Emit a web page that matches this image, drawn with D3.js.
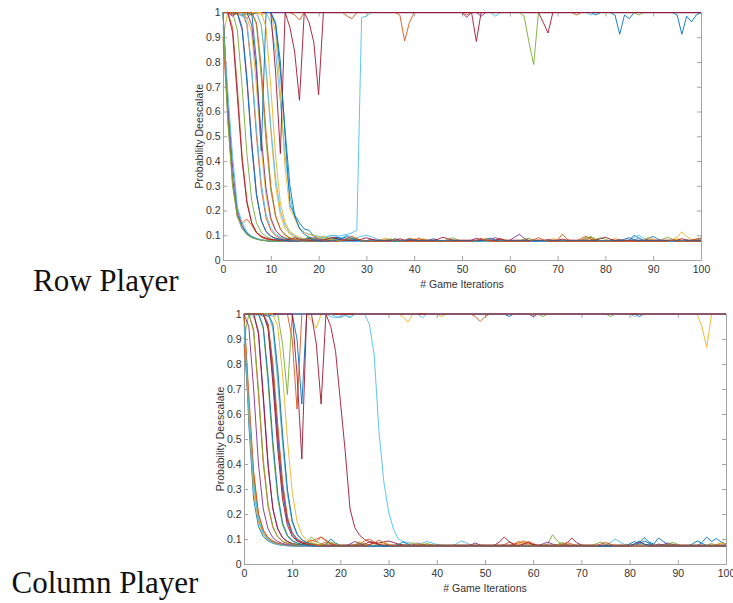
<!DOCTYPE html>
<html>
<head>
<meta charset="utf-8">
<script src="https://cdn.jsdelivr.net/npm/d3@7"></script>
<style>
body { margin: 0; background: #fff; }
</style>
</head>
<body>
<div id="wrapper"></div>
<script>
// probability values are stored in thousandths, one value per game iteration (0..100)

var xTicks = [0, 10, 20, 30, 40, 50, 60, 70, 80, 90, 100];
var yTicks = [0, 0.1, 0.2, 0.3, 0.4, 0.5, 0.6, 0.7, 0.8, 0.9, 1];
var yTickLabels = ["0", "0.1", "0.2", "0.3", "0.4", "0.5", "0.6", "0.7", "0.8", "0.9", "1"];
var panelNames = ["Row Player", "Column Player"];
var axisName = "# Game Iterations";
var valueName = "Probability Deescalate";

// ---- Row Player runs ----
var rowP00 = [1000,1000,1000,1000,985,1000,1000,1000,1000,1000,
1000,1000,1000,1000,1000,1000,1000,1000,1000,1000,
1000,1000,1000,1000,1000,1000,1000,1000,1000,1000,
1000,1000,1000,1000,1000,1000,1000,1000,1000,1000,
1000,1000,1000,1000,1000,1000,1000,1000,1000,1000,
1000,1000,1000,1000,1000,1000,1000,1000,1000,1000,
1000,1000,1000,1000,1000,1000,1000,1000,1000,1000,
1000,1000,1000,1000,1000,1000,1000,1000,990,1000,
1000,1000,990,912,990,975,1000,1000,1000,1000,
1000,1000,1000,1000,1000,990,912,985,962,990,1000];
var rowP01 = [1000,1000,990,1000,1000,975,1000,1000,1000,1000,
1000,1000,1000,1000,1000,990,970,1000,1000,1000,
1000,1000,1000,1000,1000,1000,985,975,1000,1000,
1000,1000,1000,1000,1000,1000,1000,990,885,960,
1000,1000,1000,1000,1000,1000,1000,1000,1000,1000,
1000,990,1000,1000,1000,1000,1000,1000,1000,1000,
1000,1000,1000,1000,1000,1000,1000,1000,1000,1000,
1000,1000,1000,1000,990,1000,1000,1000,1000,1000,
1000,1000,1000,1000,1000,1000,1000,1000,1000,1000,
1000,1000,1000,1000,1000,1000,1000,1000,1000,1000,1000];
var rowP02 = [900,1000,1000,990,1000,980,920,700,450,260,
160,118,100,90,85,82,80,84,92,86,
80,78,76,75,75,78,84,78,75,75,
75,75,75,82,88,80,75,75,75,75,
75,80,86,80,75,75,75,75,75,75,
75,75,75,75,80,75,75,75,75,82,
76,75,75,75,75,75,75,75,80,86,
80,75,75,75,75,75,75,75,75,75,
75,75,78,75,75,75,75,75,75,84,
80,75,75,75,82,92,114,95,82,80,86];
var rowP03 = [1000,640,380,200,140,108,94,86,81,78,
76,75,75,75,75,75,76,75,75,75,
75,75,80,75,75,75,75,75,75,75,
75,75,75,75,75,75,75,75,75,75,
75,75,75,75,75,75,80,75,75,75,
75,75,75,75,75,75,75,75,75,75,
80,92,104,88,78,75,75,75,75,75,
75,75,75,75,75,75,75,75,75,75,
75,75,75,75,75,80,75,75,75,75,
75,75,75,75,75,75,75,75,75,75,75];
var rowP04 = [1000,1000,1000,1000,1000,1000,990,1000,1000,1000,
1000,1000,1000,1000,1000,1000,1000,1000,1000,1000,
1000,1000,1000,1000,1000,1000,1000,1000,1000,1000,
1000,1000,1000,1000,1000,1000,1000,1000,1000,1000,
1000,1000,1000,1000,1000,1000,1000,1000,1000,1000,
1000,1000,1000,1000,1000,1000,1000,1000,1000,1000,
1000,1000,1000,985,880,790,1000,1000,1000,1000,
1000,1000,1000,1000,1000,1000,1000,1000,1000,1000,
1000,1000,1000,1000,1000,1000,1000,990,1000,1000,
1000,1000,1000,1000,1000,1000,1000,1000,1000,1000,1000];
var rowP05 = [1000,1000,1000,1000,990,1000,1000,1000,1000,1000,
960,840,640,420,260,170,130,112,104,100,
96,92,96,100,97,100,104,110,120,980,
985,1000,1000,1000,1000,1000,1000,1000,1000,1000,
1000,1000,1000,1000,1000,1000,1000,1000,1000,1000,
1000,1000,1000,1000,1000,1000,1000,985,1000,1000,
1000,1000,1000,1000,1000,1000,1000,1000,1000,1000,
1000,1000,1000,1000,1000,1000,1000,990,1000,1000,
1000,1000,1000,1000,1000,1000,1000,1000,1000,1000,
1000,1000,1000,1000,1000,1000,1000,1000,1000,1000,1000];
var rowP06 = [1000,1000,1000,1000,1000,1000,1000,1000,1000,1000,
1000,1000,1000,1000,940,840,645,1000,960,880,
668,1000,1000,1000,1000,1000,1000,1000,1000,1000,
1000,1000,1000,1000,1000,1000,1000,1000,1000,1000,
1000,1000,1000,1000,1000,1000,1000,1000,1000,1000,
1000,1000,1000,1000,1000,1000,1000,1000,1000,1000,
1000,1000,1000,1000,1000,1000,1000,1000,1000,1000,
1000,1000,1000,1000,1000,1000,1000,1000,1000,1000,
1000,1000,1000,1000,1000,1000,1000,1000,1000,1000,
1000,1000,1000,1000,1000,1000,1000,1000,1000,1000,1000];
var rowP07 = [1000,600,330,185,132,106,92,85,80,78,
76,75,75,78,75,75,75,80,86,80,
75,75,75,75,75,80,88,80,75,75,
75,75,75,75,75,75,75,75,75,75,
75,75,75,75,75,75,75,75,82,75,
75,75,75,75,75,75,75,75,75,75,
75,75,75,75,75,75,75,75,75,75,
75,75,75,75,75,75,75,75,75,75,
75,75,75,75,75,80,100,88,78,75,
75,75,75,75,75,75,75,75,75,75,75];
var rowP08 = [900,580,310,175,150,165,140,110,92,84,
80,78,76,75,75,75,75,75,75,75,
75,78,84,90,84,78,75,75,75,75,
75,75,75,75,75,75,75,75,75,75,
75,75,75,75,75,75,75,75,75,75,
75,75,75,75,75,75,75,75,75,75,
75,75,75,75,75,75,75,75,75,75,
80,105,84,75,75,75,82,92,80,75,
75,75,75,75,75,75,75,75,75,75,
75,75,75,80,75,75,75,75,75,75,75];
var rowP09 = [1000,1000,1000,995,1000,1000,1000,1000,950,760,
520,300,180,128,104,92,86,82,80,78,
76,75,75,80,88,80,75,75,75,75,
75,75,75,75,75,75,75,75,75,80,
86,80,75,75,75,75,75,75,75,75,
75,75,75,75,75,75,75,75,75,75,
75,75,75,75,75,75,75,75,75,75,
75,75,75,80,75,75,75,75,75,75,
75,75,88,80,75,75,75,75,75,75,
75,75,75,75,75,75,75,75,75,75,75];
var rowP10 = [1000,1000,1000,1000,940,740,480,270,160,115,
96,88,84,82,80,79,78,78,78,78,
78,78,78,82,90,84,78,78,78,78,
78,84,80,78,78,78,78,78,78,78,
78,78,78,78,78,78,78,78,78,78,
78,78,78,78,78,78,84,90,84,78,
78,78,78,78,78,78,78,78,82,78,
78,78,78,78,78,78,78,78,78,78,
78,78,78,82,78,78,78,78,78,78,
78,78,78,78,78,78,78,78,78,78,78];
var rowP11 = [1000,1000,1000,930,700,430,240,150,112,95,
86,82,80,84,90,84,78,76,75,75,
75,75,75,75,75,75,75,80,86,80,
75,75,75,75,75,75,75,75,75,75,
75,75,75,75,75,75,75,75,75,75,
75,75,75,75,75,75,75,75,75,75,
75,75,75,75,75,75,75,75,75,75,
75,75,75,75,75,80,92,85,76,75,
75,75,75,75,75,75,75,75,75,75,
75,75,75,75,75,75,75,75,75,82,90];
var rowP12 = [950,680,420,215,150,114,96,88,82,79,
77,76,75,75,75,75,75,75,75,75,
80,88,95,100,92,85,80,84,90,96,
100,94,86,80,76,75,75,75,75,75,
75,75,75,75,75,75,75,75,75,75,
75,75,75,75,75,75,75,75,75,75,
75,75,75,75,75,75,75,75,75,75,
75,75,75,75,75,75,75,75,75,75,
75,75,75,75,75,80,92,100,88,80,
75,75,75,75,75,75,75,75,75,75,75];
var rowP13 = [1000,1000,1000,1000,1000,1000,1000,1000,1000,1000,
1000,1000,1000,1000,1000,1000,1000,1000,1000,1000,
1000,1000,1000,1000,1000,1000,1000,1000,1000,1000,
1000,1000,1000,1000,1000,1000,1000,1000,1000,1000,
1000,1000,1000,1000,1000,1000,1000,1000,1000,1000,
1000,1000,1000,883,1000,1000,1000,1000,1000,1000,
1000,1000,1000,1000,1000,1000,1000,960,917,1000,
1000,1000,1000,1000,1000,1000,1000,1000,1000,1000,
1000,1000,1000,1000,1000,1000,1000,1000,1000,1000,
1000,1000,1000,1000,1000,1000,1000,1000,1000,1000,1000];
var rowP14 = [1000,1000,1000,1000,1000,1000,990,1000,1000,1000,
1000,960,800,500,222,182,150,125,120,96,
86,82,80,86,92,86,80,78,76,75,
75,75,75,75,75,80,86,80,75,75,
75,75,75,75,75,75,75,75,75,75,
75,75,75,75,75,75,75,75,75,75,
75,75,75,75,75,75,75,75,75,75,
75,75,75,75,75,75,75,75,75,75,
75,75,75,75,75,75,75,75,75,88,
95,84,76,75,75,75,75,75,75,75,75];
var rowP15 = [1000,1000,995,1000,1000,950,760,500,290,170,
120,98,88,82,80,78,76,75,75,75,
75,80,86,80,75,75,75,75,75,75,
75,75,75,75,75,75,75,75,80,88,
82,75,75,75,75,75,75,75,75,75,
75,75,75,75,75,75,75,80,84,78,
75,75,75,75,75,75,75,75,75,75,
75,75,75,75,78,88,96,84,76,75,
75,75,75,75,75,75,75,75,75,75,
75,75,75,75,75,75,75,75,75,75,75];
var rowP16 = [1000,1000,1000,1000,1000,1000,1000,1000,990,1000,
1000,920,680,370,205,170,125,112,102,100,
92,86,82,80,78,76,75,75,75,75,
75,75,75,75,75,75,75,75,75,75,
75,75,75,75,75,75,75,75,75,75,
75,75,75,75,80,88,80,75,75,75,
75,75,75,75,75,75,75,75,75,75,
75,75,75,75,75,75,75,75,75,75,
75,75,75,75,75,75,75,75,80,92,
84,76,75,75,75,75,75,75,75,75,75];
var rowP17 = [1000,1000,985,1000,1000,1000,1000,1000,1000,1000,
1000,1000,1000,1000,1000,1000,1000,1000,1000,1000,
1000,1000,1000,1000,1000,1000,1000,1000,1000,1000,
1000,1000,1000,1000,1000,1000,1000,1000,1000,1000,
1000,1000,1000,1000,1000,1000,1000,1000,1000,1000,
1000,980,1000,1000,985,1000,1000,1000,1000,1000,
1000,1000,1000,1000,1000,1000,1000,1000,1000,1000,
1000,1000,1000,1000,1000,1000,1000,1000,1000,1000,
1000,1000,1000,1000,1000,1000,1000,1000,1000,1000,
1000,1000,1000,1000,1000,1000,1000,1000,1000,1000,1000];
var rowP18 = [1000,1000,1000,1000,1000,990,1000,950,740,480,
280,175,125,102,90,84,80,86,92,85,
78,76,75,75,75,75,75,75,75,75,
75,75,75,75,75,75,75,75,75,75,
75,75,75,75,75,75,75,75,80,75,
75,75,75,75,75,75,75,75,75,75,
75,75,75,75,75,75,75,75,75,75,
75,75,75,75,75,80,88,95,84,76,
75,75,75,75,75,75,75,75,75,75,
75,75,75,75,75,75,75,75,75,75,75];
var rowP19 = [1000,1000,1000,1000,1000,1000,1000,1000,950,780,
540,330,200,140,110,96,88,84,82,80,
84,92,86,80,84,92,100,92,84,78,
76,75,75,75,75,75,75,75,75,75,
75,75,75,75,75,75,75,75,75,75,
75,75,75,75,75,75,75,75,75,75,
75,75,75,75,75,75,75,75,75,75,
75,75,75,75,75,75,75,75,75,75,
75,75,75,75,75,75,75,75,75,75,
75,75,75,75,75,75,75,75,75,80,86];
var rowP20 = [1000,1000,1000,1000,1000,1000,1000,1000,1000,1000,
1000,760,430,1000,1000,1000,1000,1000,1000,1000,
1000,1000,1000,1000,1000,1000,1000,1000,1000,1000,
1000,1000,1000,1000,1000,1000,1000,1000,1000,1000,
1000,1000,1000,1000,1000,1000,1000,1000,1000,1000,
1000,1000,1000,1000,1000,1000,1000,1000,1000,1000,
1000,1000,1000,1000,1000,1000,1000,1000,1000,1000,
1000,1000,1000,1000,1000,1000,1000,1000,1000,1000,
1000,1000,1000,1000,1000,1000,1000,1000,1000,1000,
1000,1000,1000,1000,1000,1000,1000,1000,1000,1000,1000];
var rowP21 = [1000,1000,1000,1000,1000,1000,1000,800,440,1000,
1000,950,760,520,300,180,128,104,92,86,
82,80,78,76,75,75,75,75,75,75,
75,75,75,75,75,75,75,75,75,75,
75,75,75,80,86,80,75,75,75,75,
75,75,75,75,75,75,75,75,75,75,
75,75,75,75,75,75,75,75,75,75,
75,75,75,75,75,75,75,75,75,75,
75,75,75,75,75,75,75,75,75,75,
75,75,75,75,75,75,75,82,75,75,75];
var rowP22 = [1000,1000,940,700,420,240,150,110,95,87,
82,80,78,76,75,75,75,75,75,75,
75,75,75,75,75,75,80,88,82,75,
75,75,75,75,75,75,75,75,75,75,
80,88,80,75,75,75,75,75,75,75,
75,75,75,75,75,75,75,75,75,75,
75,75,75,75,75,75,80,75,75,75,
75,75,75,75,75,75,75,75,75,75,
75,75,75,75,75,75,75,75,75,75,
75,75,75,75,75,75,75,75,80,85,88];
var rowP23 = [1000,1000,1000,1000,1000,1000,1000,1000,1000,940,
700,420,230,150,115,100,92,86,82,84,
90,96,88,82,78,76,75,75,75,75,
75,75,75,75,75,75,75,75,75,75,
75,75,75,75,75,75,75,75,75,75,
75,75,75,75,75,75,75,75,75,75,
75,75,75,75,75,75,75,75,75,75,
75,75,75,75,75,75,75,75,75,75,
75,75,75,75,75,75,75,75,75,75,
75,75,75,75,80,86,80,75,75,75,75];
var rowP24 = [1000,1000,1000,1000,1000,1000,950,760,500,290,
170,120,98,88,82,79,77,76,75,75,
75,75,75,75,75,75,75,75,75,75,
75,75,75,75,75,75,75,75,75,75,
75,75,75,75,75,75,75,75,75,75,
75,75,80,88,82,75,75,75,75,75,
75,75,75,75,75,75,75,75,75,75,
75,75,75,75,75,75,75,75,75,75,
75,80,75,75,75,75,75,75,75,75,
75,75,75,75,75,75,75,75,75,75,75];
var rowP25 = [1000,560,300,175,125,102,90,84,80,78,
77,76,76,80,86,80,76,76,76,76,
76,82,90,84,78,76,80,88,82,76,
76,76,76,76,80,86,80,76,76,76,
76,76,82,76,76,76,76,84,90,82,
76,76,76,76,76,80,76,76,76,76,
76,76,76,84,88,80,76,76,76,76,
76,76,80,76,76,76,76,76,84,90,
84,76,76,76,76,76,76,76,76,76,
76,76,84,92,84,76,76,76,76,76,76];
var rowP26 = [1000,1000,1000,1000,1000,960,780,530,310,185,
128,104,92,86,82,80,78,76,80,88,
80,76,75,75,75,75,75,75,75,75,
75,75,75,75,75,75,75,75,75,75,
75,75,75,75,75,75,75,75,75,75,
75,75,75,75,75,75,75,75,75,75,
75,75,75,75,75,75,75,75,75,75,
75,75,75,75,75,75,75,75,75,75,
75,75,75,75,75,75,80,90,80,75,
75,75,75,75,75,75,75,75,75,75,75];
var rowP27 = [1000,1000,920,660,400,230,150,112,96,88,
83,81,80,80,84,90,84,80,80,80,
80,80,86,92,86,80,80,80,80,84,
90,84,80,80,80,80,80,86,80,80,
80,80,80,80,80,84,92,86,80,80,
80,80,80,80,80,80,80,80,86,80,
80,80,80,80,80,80,80,80,80,80,
80,84,80,80,80,80,80,80,80,86,
92,84,80,80,80,80,80,80,80,80,
80,80,80,80,80,80,86,80,80,80,80];
var rowP28 = [1000,1000,1000,995,930,720,460,260,160,115,
96,87,82,79,77,77,77,82,88,82,
77,77,77,77,82,88,95,86,80,77,
77,77,77,77,77,77,77,77,77,84,
80,77,77,77,77,77,77,77,77,77,
77,77,77,77,77,84,88,80,77,77,
77,77,77,77,77,77,77,77,77,77,
77,77,77,77,77,77,77,77,77,77,
77,77,77,77,84,90,82,77,77,77,
77,77,77,77,77,77,77,77,77,77,77];
var rowP29 = [1000,1000,1000,1000,1000,1000,1000,960,780,520,
300,180,125,100,88,82,80,80,84,90,
84,78,76,75,75,80,88,96,86,78,
75,75,75,75,75,75,82,75,75,75,
75,75,75,75,75,75,75,75,75,75,
75,75,75,80,88,80,75,75,75,75,
75,75,75,75,75,82,90,82,75,75,
75,75,75,75,75,75,75,75,75,75,
75,75,75,75,75,75,75,75,75,75,
75,75,75,75,80,75,75,75,75,75,75];

// ---- Column Player runs ----
var colP00 = [1000,1000,1000,1000,990,1000,1000,1000,1000,1000,
1000,900,640,1000,1000,1000,1000,1000,1000,1000,
1000,1000,1000,1000,1000,1000,1000,1000,1000,1000,
1000,1000,1000,1000,1000,1000,1000,1000,1000,1000,
1000,1000,1000,1000,1000,1000,1000,1000,1000,1000,
1000,1000,1000,1000,1000,990,1000,1000,1000,1000,
1000,1000,1000,1000,1000,1000,1000,1000,1000,1000,
1000,1000,1000,1000,1000,1000,1000,1000,1000,1000,
1000,1000,990,1000,1000,1000,1000,1000,1000,1000,
1000,1000,1000,1000,1000,1000,1000,1000,1000,1000,1000];
var colP01 = [880,620,360,200,135,106,92,84,78,75,
74,73,78,86,92,100,108,96,84,76,
73,72,72,72,72,72,72,72,72,72,
72,72,72,72,72,72,72,72,72,72,
72,72,72,72,72,72,72,72,72,72,
72,72,72,72,78,88,80,84,92,84,
76,72,72,72,72,72,72,72,72,72,
72,72,72,72,72,72,72,72,72,72,
72,72,72,72,72,72,72,72,72,72,
72,72,72,72,72,72,72,72,72,72,72];
var colP02 = [1000,1000,1000,1000,1000,1000,1000,1000,1000,1000,
1000,1000,1000,1000,975,944,1000,1000,1000,1000,
1000,1000,1000,1000,1000,1000,1000,1000,1000,1000,
1000,1000,1000,990,968,1000,1000,1000,1000,1000,
1000,990,1000,1000,1000,1000,1000,1000,1000,1000,
1000,1000,1000,1000,1000,1000,1000,1000,1000,1000,
1000,1000,1000,1000,1000,1000,1000,1000,1000,1000,
1000,1000,1000,1000,1000,1000,1000,1000,1000,1000,
1000,1000,1000,1000,1000,1000,1000,1000,1000,1000,
1000,1000,1000,1000,1000,950,866,1000,1000,1000,1000];
var colP03 = [1000,1000,1000,930,680,400,220,140,105,90,
82,78,75,74,73,72,72,72,72,72,
72,72,72,72,72,72,72,72,72,72,
72,72,72,72,72,76,84,78,72,72,
72,72,72,72,72,72,72,72,72,72,
72,72,72,72,72,72,72,72,72,72,
72,72,72,72,72,72,72,72,72,72,
72,72,72,72,72,72,72,72,72,72,
72,72,72,72,72,72,72,72,72,72,
72,72,72,72,72,72,72,72,72,72,72];
var colP04 = [900,1000,1000,1000,1000,1000,1000,1000,880,678,
1000,1000,1000,1000,1000,1000,1000,1000,1000,1000,
1000,1000,1000,1000,1000,1000,1000,1000,1000,1000,
1000,1000,1000,1000,1000,1000,1000,1000,1000,1000,
1000,1000,1000,1000,1000,1000,1000,1000,1000,1000,
1000,1000,1000,1000,1000,1000,1000,1000,1000,1000,
1000,1000,990,1000,1000,1000,1000,1000,1000,1000,
1000,1000,1000,1000,1000,1000,990,1000,1000,1000,
1000,1000,1000,1000,1000,1000,1000,1000,1000,1000,
1000,1000,1000,1000,1000,1000,1000,1000,1000,1000,1000];
var colP05 = [1000,1000,1000,1000,1000,1000,1000,1000,1000,1000,
1000,1000,1000,1000,1000,1000,1000,1000,990,985,
990,995,988,1000,1000,1000,960,840,530,330,
210,140,100,90,86,82,80,84,90,84,
78,75,73,72,72,72,72,72,72,72,
72,72,72,72,72,72,72,72,72,72,
72,72,72,72,72,72,72,72,72,72,
72,72,72,72,72,76,86,100,88,78,
72,72,72,72,72,72,72,72,72,72,
72,72,72,72,72,72,72,72,72,72,72];
var colP06 = [1000,1000,1000,1000,1000,1000,1000,1000,1000,1000,
1000,1000,1000,1000,1000,880,640,1000,950,850,
650,450,220,145,115,98,90,86,84,88,
92,86,80,76,74,72,72,72,72,72,
72,72,72,72,72,72,72,72,72,72,
72,72,76,88,108,90,78,72,72,72,
72,72,72,72,72,72,72,84,104,86,
76,72,72,72,72,72,72,72,72,72,
72,72,72,72,72,72,72,72,72,72,
72,72,72,72,72,72,72,72,72,72,72];
var colP07 = [1000,560,260,150,110,92,83,78,75,73,
72,72,72,72,72,72,72,80,100,84,
74,72,72,72,72,72,72,72,72,72,
72,72,72,72,72,72,72,72,72,72,
72,72,72,72,72,72,72,72,72,72,
72,72,72,72,72,72,72,72,72,72,
72,72,72,72,72,72,72,72,72,72,
72,72,72,72,72,72,72,72,72,72,
72,72,84,106,88,80,104,90,78,72,
72,72,72,72,72,72,72,72,72,72,72];
var colP08 = [1000,1000,1000,1000,1000,1000,1000,1000,1000,1000,
900,620,1000,1000,1000,1000,1000,1000,1000,1000,
1000,1000,1000,1000,1000,1000,1000,1000,1000,1000,
1000,1000,1000,1000,1000,1000,1000,1000,1000,1000,
1000,1000,1000,1000,1000,1000,1000,1000,990,970,
990,1000,1000,1000,1000,1000,1000,1000,1000,1000,
1000,1000,1000,1000,1000,1000,1000,1000,1000,1000,
1000,1000,1000,1000,1000,1000,1000,1000,1000,1000,
1000,1000,1000,1000,1000,1000,1000,1000,1000,1000,
1000,1000,1000,1000,1000,1000,1000,1000,1000,1000,1000];
var colP09 = [1000,1000,1000,1000,1000,1000,950,740,500,290,
170,120,98,88,82,78,75,74,73,72,
72,72,72,72,72,72,72,72,72,72,
72,72,72,72,72,72,76,82,76,72,
72,72,72,72,72,72,72,72,72,72,
72,72,72,72,72,72,72,72,72,72,
72,72,72,72,72,72,72,72,72,72,
72,72,72,72,72,72,72,72,72,72,
72,72,72,72,72,72,72,72,72,72,
72,72,72,72,72,72,72,72,78,84,80];
var colP10 = [1000,1000,1000,1000,1000,990,1000,1000,1000,1000,
1000,1000,1000,1000,1000,1000,1000,1000,1000,1000,
1000,1000,1000,1000,1000,1000,1000,1000,1000,1000,
1000,1000,1000,1000,1000,1000,1000,1000,1000,1000,
1000,1000,1000,1000,1000,1000,1000,1000,1000,1000,
1000,1000,1000,1000,1000,1000,1000,1000,1000,1000,
990,1000,1000,1000,1000,1000,1000,1000,1000,1000,
1000,1000,1000,1000,1000,1000,1000,1000,1000,1000,
1000,1000,1000,1000,1000,1000,1000,1000,1000,1000,
1000,1000,1000,1000,1000,1000,1000,1000,1000,1000,1000];
var colP11 = [1000,1000,1000,1000,940,720,460,260,155,110,
92,84,80,86,108,90,80,76,74,72,
72,72,72,72,72,72,72,72,72,72,
72,72,72,72,72,72,72,72,72,72,
72,72,72,72,72,72,72,72,72,72,
72,72,72,72,72,72,72,72,72,72,
72,72,72,80,117,92,78,72,72,72,
72,72,72,72,72,72,72,72,72,72,
72,72,72,72,72,72,72,72,72,72,
72,72,72,72,72,72,72,72,72,72,72];
var colP12 = [1000,1000,985,1000,1000,1000,990,1000,1000,1000,
1000,1000,1000,1000,1000,1000,1000,1000,1000,990,
985,995,985,1000,1000,1000,1000,1000,1000,1000,
1000,1000,1000,1000,1000,1000,1000,985,1000,1000,
1000,1000,1000,1000,1000,1000,1000,1000,1000,1000,
1000,1000,1000,1000,1000,1000,1000,1000,1000,1000,
1000,1000,1000,1000,1000,1000,1000,1000,1000,1000,
1000,1000,1000,1000,1000,1000,1000,1000,1000,1000,
1000,990,1000,1000,1000,1000,1000,1000,1000,1000,
1000,1000,1000,1000,1000,1000,1000,1000,1000,1000,1000];
var colP13 = [1000,1000,1000,1000,1000,1000,1000,1000,1000,1000,
1000,760,420,1000,1000,1000,1000,1000,1000,1000,
1000,1000,1000,1000,1000,1000,1000,1000,1000,1000,
1000,1000,1000,1000,1000,1000,1000,1000,1000,1000,
1000,1000,1000,1000,1000,1000,1000,1000,1000,1000,
1000,1000,1000,1000,1000,1000,1000,1000,1000,1000,
1000,1000,1000,1000,1000,1000,1000,1000,1000,1000,
1000,1000,1000,1000,1000,1000,1000,1000,1000,1000,
1000,1000,1000,1000,1000,1000,1000,1000,1000,1000,
1000,1000,1000,1000,1000,1000,1000,1000,1000,1000,1000];
var colP14 = [1000,1000,1000,1000,1000,950,750,500,290,170,
118,95,86,80,76,74,73,72,72,72,
72,72,72,72,72,72,72,72,72,72,
72,72,72,72,72,72,72,72,72,72,
72,72,72,72,72,72,72,72,72,72,
72,72,72,72,72,72,72,72,72,72,
72,72,72,72,72,72,72,72,72,72,
72,72,72,72,72,72,72,72,72,72,
80,90,80,92,84,76,72,72,72,72,
72,72,72,72,72,86,108,90,102,88,80];
var colP15 = [1000,1000,930,680,400,230,145,108,90,82,
78,76,74,84,96,88,108,92,80,74,
72,72,72,72,80,92,100,88,78,72,
72,72,72,72,72,72,72,72,72,72,
72,72,72,72,72,72,72,72,72,72,
72,72,72,72,72,72,80,90,82,90,
82,74,72,72,72,72,72,72,72,72,
72,72,72,72,72,72,72,72,72,72,
72,72,72,72,72,72,72,72,72,72,
72,72,72,72,72,72,72,72,72,72,72];
var colP16 = [1000,600,290,165,118,96,85,79,75,73,
72,72,72,72,72,72,72,72,72,72,
72,72,72,78,90,80,72,72,72,72,
72,72,72,72,78,86,80,72,72,72,
72,72,72,72,72,72,72,72,72,72,
72,72,72,72,72,72,72,72,72,72,
72,72,72,72,72,72,72,72,72,72,
72,72,72,72,72,72,72,72,72,72,
72,72,72,72,72,72,72,72,72,72,
72,72,72,72,72,72,72,72,76,84,80];
var colP17 = [1000,1000,1000,1000,1000,960,780,530,310,180,
125,100,88,82,78,76,75,74,74,74,
74,74,74,74,74,74,74,74,74,74,
74,74,74,74,74,74,74,74,74,74,
74,74,74,74,74,74,74,74,74,74,
74,74,74,74,74,74,74,74,74,74,
74,74,80,88,80,74,74,74,74,74,
74,74,74,74,74,74,74,74,74,74,
74,74,74,74,74,74,74,78,84,78,
74,74,74,74,74,74,74,74,74,74,74];
var colP18 = [1000,640,330,180,125,100,88,80,76,74,
73,72,72,76,84,78,72,72,72,72,
72,72,72,76,84,78,72,72,72,72,
72,72,72,72,72,72,72,76,82,76,
72,72,72,72,72,72,72,72,72,72,
72,72,72,72,72,72,72,72,72,72,
72,72,72,72,72,78,86,78,72,72,
72,72,72,72,72,72,72,72,72,72,
72,72,72,72,72,72,72,72,80,86,
78,72,72,72,72,72,72,72,72,72,72];
var colP19 = [1000,1000,1000,1000,1000,1000,940,730,480,280,
165,118,96,86,80,76,74,72,72,72,
72,72,72,72,72,72,72,72,72,72,
72,72,72,72,72,72,72,72,72,72,
72,72,72,72,80,92,86,76,72,72,
72,72,72,72,72,72,72,72,72,72,
72,72,72,72,72,72,72,72,72,72,
72,72,72,72,72,72,72,72,72,72,
72,72,72,72,72,72,72,72,72,72,
72,72,72,72,72,72,72,72,72,72,72];
var colP20 = [1000,1000,1000,920,660,390,220,140,105,90,
82,78,76,76,76,76,76,76,76,76,
76,76,76,76,76,80,88,82,76,76,
76,76,76,76,76,76,76,76,76,76,
76,76,76,76,76,76,76,76,76,76,
76,76,76,76,76,76,76,76,76,76,
76,76,76,76,76,76,76,76,76,76,
76,76,76,76,76,76,76,76,76,76,
76,76,76,76,76,76,76,76,76,76,
76,76,76,76,76,76,76,76,76,76,76];
var colP21 = [1000,1000,1000,1000,1000,1000,960,780,520,300,
175,120,96,86,80,76,74,72,72,72,
72,72,72,72,72,72,72,72,72,72,
72,72,78,88,80,72,72,72,72,72,
72,72,72,72,72,72,72,72,72,72,
72,72,72,72,72,72,72,72,72,72,
72,72,72,72,72,72,72,72,72,72,
72,72,72,72,72,72,72,72,72,72,
72,72,72,72,80,72,72,72,72,72,
72,72,72,80,92,84,72,72,72,72,72];
var colP22 = [1000,680,370,200,135,105,90,82,77,74,
74,74,74,74,74,74,80,88,82,74,
74,74,74,74,74,74,74,74,74,74,
74,74,74,74,74,74,74,74,74,74,
74,74,74,74,74,74,74,74,74,74,
74,74,74,74,74,74,74,74,74,74,
74,74,74,74,74,74,80,86,80,74,
74,74,74,74,74,74,74,74,74,74,
74,74,74,74,74,74,74,74,74,74,
74,74,74,74,74,74,74,74,74,74,74];
var colP23 = [1000,1000,1000,1000,1000,1000,1000,950,760,500,
290,170,118,96,86,80,76,74,72,72,
72,72,72,72,72,72,72,72,78,86,
80,72,72,72,72,72,72,72,72,72,
72,72,72,72,72,72,72,72,72,72,
72,72,72,72,72,72,72,80,88,80,
72,72,72,72,72,72,72,72,72,72,
72,72,72,72,72,72,72,72,72,72,
72,72,72,72,72,72,72,72,72,72,
72,72,72,72,72,72,72,72,72,72,72];
var colP24 = [1000,950,700,400,220,140,105,90,82,78,
75,73,72,72,72,72,72,72,72,72,
72,72,80,90,82,72,72,72,72,72,
72,72,72,72,72,72,72,72,72,72,
72,72,72,72,72,72,72,76,84,76,
72,72,72,72,72,72,72,72,72,72,
72,72,72,72,72,72,72,72,72,72,
72,72,72,72,72,72,72,72,72,72,
72,72,72,72,72,72,80,76,72,72,
72,72,72,72,72,72,72,72,72,72,72];
var colP25 = [1000,1000,940,700,420,240,150,110,92,84,
80,77,75,75,75,75,75,80,88,80,
75,75,75,75,75,75,75,75,75,75,
75,75,75,75,75,75,75,75,75,75,
75,75,75,75,75,75,75,75,75,75,
75,75,75,75,75,75,75,75,75,75,
75,75,75,75,75,75,75,75,75,75,
75,75,75,80,88,80,75,75,75,75,
75,75,75,75,75,75,75,75,75,75,
75,75,75,75,75,75,75,82,75,75,75];
var colP26 = [960,620,320,175,122,98,86,79,75,73,
72,72,72,72,72,72,72,72,72,72,
72,72,72,72,72,72,72,72,72,72,
72,72,72,72,72,72,72,72,72,72,
72,72,72,72,72,72,72,72,72,72,
72,72,72,72,72,72,72,72,72,72,
72,72,72,72,72,72,72,72,72,72,
72,72,72,72,72,72,72,72,72,72,
72,72,72,72,72,72,72,72,72,72,
72,72,72,72,72,72,72,72,72,72,72];
var colP27 = [1000,1000,1000,1000,1000,940,720,460,260,155,
110,92,84,80,76,74,73,73,73,73,
73,73,73,73,73,73,78,86,78,73,
73,73,73,73,73,73,73,73,73,73,
73,73,73,73,73,73,73,73,73,73,
73,73,73,73,73,73,73,73,80,86,
78,73,73,73,73,73,73,73,73,73,
73,73,73,73,73,73,73,73,73,73,
73,80,88,80,73,73,73,73,73,73,
73,73,73,73,73,73,73,73,73,73,73];
var colP28 = [1000,1000,1000,1000,950,750,490,280,165,115,
94,84,78,75,73,72,72,72,72,72,
72,72,72,72,72,72,72,72,72,72,
72,72,72,72,72,72,72,72,72,72,
72,72,72,72,72,72,72,72,72,72,
72,72,72,72,72,72,72,72,72,72,
72,72,72,72,72,72,72,72,72,72,
72,72,72,72,72,72,72,72,72,72,
72,80,92,80,72,72,72,72,72,72,
72,72,72,72,72,72,72,72,72,72,72];
var colP29 = [1000,1000,1000,1000,1000,960,800,560,330,190,
125,100,88,82,78,75,73,72,72,72,
72,72,72,72,72,72,76,84,96,84,
76,72,72,72,72,72,72,72,72,72,
72,72,72,72,72,72,72,72,72,72,
72,72,72,72,72,72,72,72,72,72,
72,72,72,72,72,72,72,72,72,72,
72,72,72,72,80,86,80,72,72,72,
72,72,72,72,72,72,72,72,72,72,
72,72,72,72,72,72,72,72,72,72,72];

var rowRuns = [rowP00,rowP01,rowP02,rowP03,rowP04,rowP05,rowP06,rowP07,rowP08,rowP09,
  rowP10,rowP11,rowP12,rowP13,rowP14,rowP15,rowP16,rowP17,rowP18,rowP19,
  rowP20,rowP21,rowP22,rowP23,rowP24,rowP25,rowP26,rowP27,rowP28,rowP29];
var colRuns = [colP00,colP01,colP02,colP03,colP04,colP05,colP06,colP07,colP08,colP09,
  colP10,colP11,colP12,colP13,colP14,colP15,colP16,colP17,colP18,colP19,
  colP20,colP21,colP22,colP23,colP24,colP25,colP26,colP27,colP28,colP29];

// matlab default line colours
var colorOrder = ["#0072BD","#D95319","#EDB120","#7E2F8E","#77AC30","#4DBEEE","#A2142F"];

var w = 733, h = 603;
var axisGray = "#a3a3a3";
var textGray = "#333333";
var sans = "'Liberation Sans', Arial, Helvetica, sans-serif";

var svg = d3.select("#wrapper")
  .append("svg")
  .attr("width", w)
  .attr("height", h);

function styleAxis(ax) {
  ax.attr("font-size", 10.5).attr("font-family", sans);
  ax.select(".domain").attr("stroke", axisGray);
  ax.selectAll(".tick line").attr("stroke", axisGray);
  ax.selectAll(".tick text").attr("fill", textGray);
}

function drawPanel(runs, box, name, nameX, nameY, clipId) {
  var x = d3.scaleLinear().domain([0, 100]).range([box.left, box.right]);
  var y = d3.scaleLinear().domain([0, 1]).range([box.bottom, box.top]);

  var g = svg.append("g");

  // box with inward ticks on all four sides
  var axB = g.append("g").attr("transform", "translate(0," + box.bottom + ")")
    .call(d3.axisBottom(x).tickValues(xTicks).tickSize(-4).tickSizeOuter(0).tickPadding(5.5));
  styleAxis(axB);
  var axT = g.append("g").attr("transform", "translate(0," + box.top + ")")
    .call(d3.axisTop(x).tickValues(xTicks).tickSize(-4).tickSizeOuter(0).tickFormat(""));
  styleAxis(axT);
  var axL = g.append("g").attr("transform", "translate(" + box.left + ",0)")
    .call(d3.axisLeft(y).tickValues(yTicks).tickSize(-4).tickSizeOuter(0).tickPadding(2.5)
      .tickFormat(function(d, i) { return yTickLabels[i]; }));
  styleAxis(axL);
  var axR = g.append("g").attr("transform", "translate(" + box.right + ",0)")
    .call(d3.axisRight(y).tickValues(yTicks).tickSize(-4).tickSizeOuter(0).tickFormat(""));
  styleAxis(axR);

  g.append("clipPath").attr("id", clipId)
    .append("rect")
    .attr("x", box.left - 1).attr("y", box.top - 1.5)
    .attr("width", box.right - box.left + 2).attr("height", box.bottom - box.top + 3);

  var line = d3.line()
    .x(function(d, i) { return x(i); })
    .y(function(d) { return y(d / 1000); });

  g.append("g").attr("clip-path", "url(#" + clipId + ")")
    .selectAll("path")
    .data(runs)
    .join("path")
    .attr("d", line)
    .attr("fill", "none")
    .attr("stroke", function(d, i) { return colorOrder[i % colorOrder.length]; })
    .attr("stroke-width", 0.9)
    .attr("stroke-linejoin", "round");

  // axis titles
  g.append("text")
    .attr("x", (box.left + box.right) / 2)
    .attr("y", box.bottom + 27.5)
    .attr("text-anchor", "middle")
    .attr("font-family", sans).attr("font-size", 10.5)
    .attr("fill", textGray)
    .text(axisName);
  g.append("text")
    .attr("transform", "translate(" + (box.left - 20) + "," + ((box.top + box.bottom) / 2) + ") rotate(-90)")
    .attr("text-anchor", "middle")
    .attr("font-family", sans).attr("font-size", 10.5)
    .attr("fill", textGray)
    .text(valueName);

  // panel name
  svg.append("text")
    .attr("x", nameX).attr("y", nameY)
    .attr("font-family", "'Liberation Serif', 'Times New Roman', serif")
    .attr("font-size", 31)
    .attr("fill", "#111")
    .text(name);
}

drawPanel(rowRuns, {left: 223, right: 701, top: 12.5, bottom: 260}, panelNames[0], 33, 291, "clipRow");
drawPanel(colRuns, {left: 244, right: 726, top: 314, bottom: 564}, panelNames[1], 11.5, 593, "clipCol");
</script>
</body>
</html>
